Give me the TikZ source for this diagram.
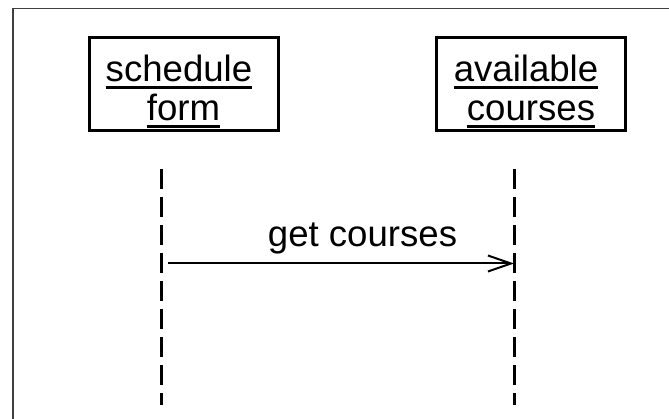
\documentclass[tikz,border=0pt]{standalone}
\usepackage{fontspec}
\setmainfont{Liberation Sans}
\usetikzlibrary{arrows.meta}
\tikzset{
  objbox/.style={draw, line width=3pt, minimum width=189pt, minimum height=93pt, inner sep=0pt},
  lbl/.style={inner sep=0pt, anchor=base, font=\fontsize{36.6}{40}\selectfont},
  uline/.style={line width=3.6pt},
  lifeline/.style={line width=3pt, dash pattern=on 20pt off 8pt},
  msg/.style={line width=2pt, -{Straight Barb[length=23pt,width=16pt,line width=2pt]}},
  frame/.style={line width=1.8pt, black!75}
}
\begin{document}
\begin{tikzpicture}[x=1pt,y=-1pt]
\useasboundingbox (0,0) rectangle (669,419);
\clip (0,0) rectangle (669,419);
\fill[white] (0,0) rectangle (669,419);
% frame
\draw[frame] (13,430) -- (13,8.5) -- (680,8.5);
% object boxes
\node[objbox] (b1) at (183.5,84.5) {};
\node[objbox] (b2) at (531,84.5) {};
% labels
\node[lbl] (s1) at (179,82) {schedule};
\node[lbl] (s2) at (183.5,121) {form};
\node[lbl] (t1) at (526,82) {available};
\node[lbl] (t2) at (531,121) {courses};
\foreach \n in {s1,s2,t1,t2}{
  \draw[uline] ([yshift=-5.5pt]\n.base west) -- ([yshift=-5.5pt]\n.base east);
}
% lifelines
\coordinate (l1a) at (161,169);
\coordinate (l1b) at (161,405);
\coordinate (l2a) at (514,169);
\coordinate (l2b) at (514,405);
\draw[lifeline] (l1a) -- (l1b);
\draw[lifeline] (l2a) -- (l2b);
% message
\coordinate (m1) at (168,263.5);
\coordinate (m2) at (514,263.5);
\draw[msg] (m1) -- (m2);
\node[lbl] (ml) at (362.5,247) {get courses};
\end{tikzpicture}
\end{document}
